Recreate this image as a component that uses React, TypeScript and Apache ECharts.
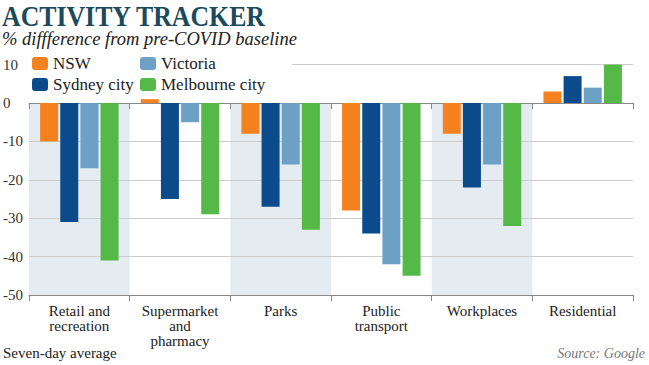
import React, { useEffect, useRef } from "react";
import * as echarts from "echarts";

const categories = [
  "Retail and\nrecreation",
  "Supermarket\nand\npharmacy",
  "Parks",
  "Public\ntransport",
  "Workplaces",
  "Residential",
];
const nsw = [-10, 1, -8, -28, -8, 3];
const sydney = [-31, -25, -27, -34, -22, 7];
const victoria = [-17, -5, -16, -42, -16, 4];
const melbourne = [-41, -29, -33, -45, -32, 10];
const bandValues = [-50, null, -50, null, -50, null];
const yTicks = { min: -50, max: 10, interval: 10 };

const SERIF = "Liberation Serif";

export default function App() {
  const ref = useRef<HTMLDivElement>(null);
  useEffect(() => {
    if (!ref.current) return;
    const chart = echarts.init(ref.current, null, { renderer: "svg" });
    const barBase = {
      type: "bar" as const,
      xAxisIndex: 0,
      yAxisIndex: 0,
      barWidth: 18,
      barGap: "12%",
      z: 2,
    };
    const legendText = { fontFamily: SERIF, fontSize: 17, color: "#222", lineHeight: 17 };
    chart.setOption({
      animation: false,
      backgroundColor: "#ffffff",
      textStyle: { fontFamily: SERIF },
      grid: { left: 29, right: 16, top: 64.6, bottom: 70 },
      legend: [
        {
          data: ["NSW", "Sydney city"],
          orient: "vertical",
          left: 32,
          top: 55,
          padding: 0,
          itemGap: 4,
          itemWidth: 16,
          itemHeight: 13,
          icon: "roundRect",
          z: 10,
          textStyle: legendText,
          selectedMode: false,
        },
        {
          data: ["Victoria", "Melbourne city"],
          orient: "vertical",
          left: 140,
          top: 55,
          padding: 0,
          itemGap: 4,
          itemWidth: 16,
          itemHeight: 13,
          icon: "roundRect",
          z: 10,
          textStyle: legendText,
          selectedMode: false,
        },
      ],
      xAxis: [
        {
          type: "category",
          data: categories,
          position: "bottom",
          z: 1,
          axisLine: { onZero: false, lineStyle: { color: "#888", width: 1 } },
          axisTick: { show: true, length: 6, lineStyle: { color: "#888" } },
          axisLabel: {
            interval: 0,
            margin: 8,
            fontFamily: SERIF,
            fontSize: 15,
            lineHeight: 15,
            color: "#222",
          },
          splitLine: { show: false },
        },
        {
          type: "category",
          data: categories,
          position: "bottom",
          z: 1,
          axisLine: { onZero: true, lineStyle: { color: "#888", width: 1 } },
          axisTick: { show: true, length: 6, lineStyle: { color: "#888" } },
          axisLabel: { show: false },
          splitLine: { show: false },
        },
      ],
      yAxis: {
        type: "value",
        min: yTicks.min,
        max: yTicks.max,
        interval: yTicks.interval,
        z: 1,
        axisLine: { show: false },
        axisTick: { show: false },
        axisLabel: {
          align: "left",
          margin: 26,
          fontFamily: SERIF,
          fontSize: 15,
          color: "#333",
        },
        splitLine: { lineStyle: { color: "#cccccc", width: 1 } },
      },
      series: [
        {
          type: "bar",
          xAxisIndex: 1,
          yAxisIndex: 0,
          data: bandValues,
          barWidth: "100%",
          itemStyle: { color: "#e4ecf2" },
          silent: true,
          z: 0,
        },
        { ...barBase, name: "NSW", data: nsw, itemStyle: { color: "#f5821f" } },
        { ...barBase, name: "Sydney city", data: sydney, itemStyle: { color: "#0b4a8b" } },
        { ...barBase, name: "Victoria", data: victoria, itemStyle: { color: "#6ca1c5" } },
        { ...barBase, name: "Melbourne city", data: melbourne, itemStyle: { color: "#55b948" } },
      ],
      graphic: [
        {
          type: "rect",
          z: 5,
          shape: { x: 29, y: 55, width: 263, height: 20 },
          style: { fill: "#ffffff" },
          silent: true,
        },
        {
          type: "text",
          x: 2,
          y: 1,
          scaleX: 0.86,
          z: 10,
          style: {
            text: "ACTIVITY TRACKER",
            font: `bold 30px ${SERIF}`,
            fill: "#1b4a5d",
            verticalAlign: "top",
          },
        },
        {
          type: "text",
          x: 2,
          y: 29,
          z: 10,
          style: {
            text: "% diffference from pre-COVID baseline",
            font: `italic 18.5px ${SERIF}`,
            fill: "#222",
            verticalAlign: "top",
          },
        },
        {
          type: "text",
          x: 3,
          y: 353,
          z: 10,
          style: {
            text: "Seven-day average",
            font: `15px ${SERIF}`,
            fill: "#222",
            verticalAlign: "middle",
          },
        },
        {
          type: "text",
          x: 645,
          y: 353,
          z: 10,
          style: {
            text: "Source: Google",
            font: `italic 14px ${SERIF}`,
            fill: "#777",
            align: "right",
            verticalAlign: "middle",
          },
        },
      ],
    });
    return () => chart.dispose();
  }, []);
  return <div ref={ref} style={{ width: 649, height: 365, position: "absolute", left: 0, top: 0 }} />;
}
